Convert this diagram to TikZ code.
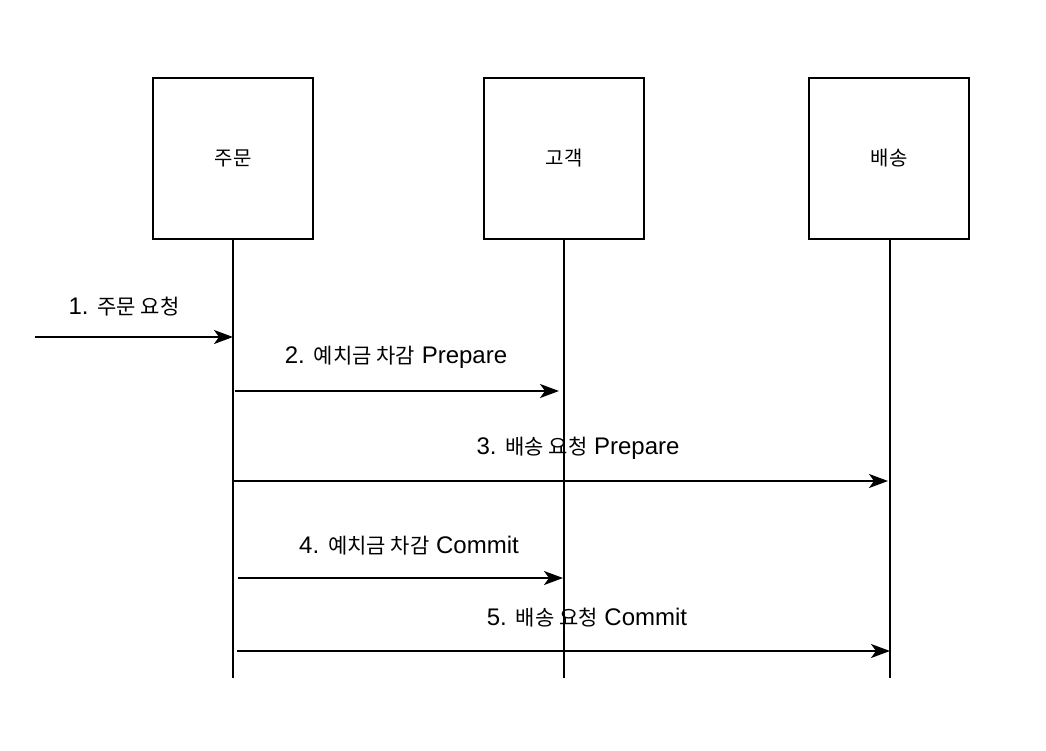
\documentclass[tikz,border=0pt]{standalone}
\usepackage{fontspec}
\setmainfont{Liberation Sans}
\newfontfamily\kr{Noto Sans CJK KR}
\newcommand\krt[1]{{\kr\fontsize{21}{25}\selectfont #1}}
\usetikzlibrary{arrows.meta}
\begin{document}
\begin{tikzpicture}[x=1pt,y=-1pt,
  actor/.style={draw, line width=2pt, minimum width=160pt, minimum height=161pt, inner sep=0pt, font=\fontsize{20}{24}\selectfont\kr},
  life/.style={line width=2pt},
  msg/.style={line width=2pt, -{Stealth[length=19pt,width=14pt,inset=5pt]}},
  lbl/.style={font=\fontsize{24}{28}\selectfont, inner sep=0pt}]
\useasboundingbox (0,0) rectangle (1046,750);
\fill[white] (0,0) rectangle (1046,750);
% actors
\node[actor] (order) at (233,158.5) {주문};
\node[actor] (cust) at (564,158.5) {고객};
\node[actor] (ship) at (889,158.5) {배송};
% lifeline ends
\coordinate (orderEnd) at (233,678);
\coordinate (custEnd) at (564,678);
\coordinate (shipEnd) at (890,678);
\draw[life] (order.south) -- (orderEnd);
\draw[life] (cust.south) -- (custEnd);
\draw[life] (ship.south -| shipEnd) -- (shipEnd);
% message endpoints
\coordinate (m1s) at (35,337);   \coordinate (m1e) at (233,337);
\coordinate (m2s) at (235,391);  \coordinate (m2e) at (559,391);
\coordinate (m3s) at (233,481);  \coordinate (m3e) at (888,481);
\coordinate (m4s) at (238,578);  \coordinate (m4e) at (563,578);
\coordinate (m5s) at (237,651);  \coordinate (m5e) at (890,651);
\draw[msg] (m1s) -- (m1e);
\draw[msg] (m2s) -- (m2e);
\draw[msg] (m3s) -- (m3e);
\draw[msg] (m4s) -- (m4e);
\draw[msg] (m5s) -- (m5e);
% labels
\node[lbl] (l1) at (124,307) {1. \krt{주문 요청}};
\node[lbl] (l2) at (396,357) {2. \krt{예치금 차감} Prepare};
\node[lbl] (l3) at (578,448) {3. \krt{배송 요청} Prepare};
\node[lbl] (l4) at (409,546) {4. \krt{예치금 차감} Commit};
\node[lbl] (l5) at (587,618) {5. \krt{배송 요청} Commit};
\end{tikzpicture}
\end{document}
